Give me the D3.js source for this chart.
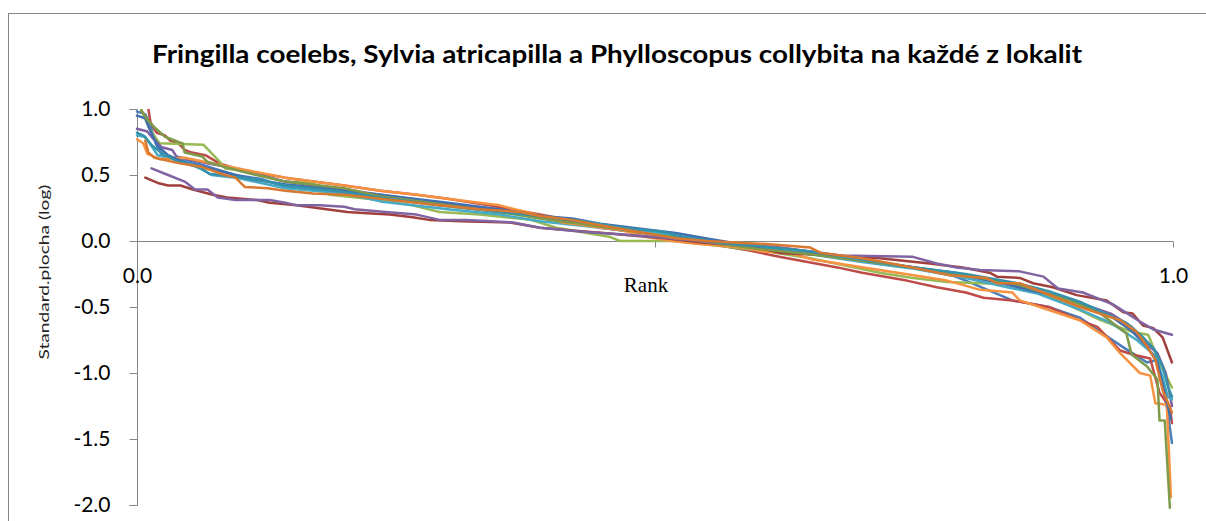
<!DOCTYPE html>
<html>
<head>
<meta charset="utf-8">
<script src="https://cdn.jsdelivr.net/npm/d3@7"></script>
<style>
  html, body { margin: 0; padding: 0; background: #fff; }
  svg { display: block; }
</style>
</head>
<body>
<svg id="chart" width="1206" height="521"></svg>
<script>
// ---- DATA (rank 0..1, standardised log area) ----
const titleText = "Fringilla coelebs, Sylvia atricapilla a Phylloscopus collybita na každé z lokalit";
const yTitle = "Standard.plocha (log)";
const xTitle = "Rank";
const yTicks = [-2.0, -1.5, -1.0, -0.5, 0.0, 0.5, 1.0];
const xTicks = [0.0, 0.5, 1.0];
const xTickLabels = ["0.0", "", "1.0"];

const lok1 = [[0,0.98],[0.005,0.97],[0.008,0.96],[0.013,0.88],[0.018,0.74],[0.024,0.65],[0.035,0.62],[0.046,0.61],[0.07,0.56],[0.095,0.5],[0.12,0.47],[0.143,0.41],[0.17,0.39],[0.2,0.36],[0.235,0.33],[0.27,0.3],[0.3,0.28],[0.34,0.23],[0.389,0.18],[0.42,0.15],[0.447,0.12],[0.48,0.08],[0.51,0.05],[0.543,0.01],[0.57,-0.02],[0.62,-0.06],[0.66,-0.1],[0.7,-0.15],[0.74,-0.19],[0.78,-0.24],[0.8,-0.3],[0.845,-0.45],[0.88,-0.5],[0.91,-0.58],[0.93,-0.69],[0.951,-0.8],[0.975,-0.92],[0.985,-0.9],[0.99,-1.1],[0.995,-1.3],[0.999,-1.53]];
const lok2 = [[0,1.15],[0.011,1.0],[0.013,0.9],[0.019,0.82],[0.027,0.8],[0.032,0.76],[0.04,0.74],[0.046,0.69],[0.053,0.67],[0.066,0.65],[0.079,0.59],[0.095,0.55],[0.11,0.52],[0.128,0.5],[0.143,0.48],[0.17,0.45],[0.2,0.42],[0.235,0.38],[0.27,0.35],[0.3,0.32],[0.34,0.27],[0.389,0.2],[0.43,0.14],[0.47,0.09],[0.5,0.05],[0.543,-0.01],[0.59,-0.07],[0.62,-0.12],[0.676,-0.2],[0.7,-0.24],[0.743,-0.3],[0.772,-0.35],[0.8,-0.39],[0.817,-0.43],[0.845,-0.45],[0.88,-0.5],[0.91,-0.6],[0.927,-0.65],[0.949,-0.83],[0.961,-0.86],[0.978,-0.89],[0.987,-1.15],[0.997,-1.26],[0.999,-1.38]];
const lok3 = [[0.004,1.0],[0.012,0.85],[0.02,0.76],[0.022,0.74],[0.064,0.73],[0.08,0.6],[0.085,0.55],[0.095,0.54],[0.128,0.48],[0.143,0.45],[0.17,0.44],[0.186,0.35],[0.235,0.31],[0.266,0.27],[0.292,0.22],[0.331,0.2],[0.38,0.16],[0.405,0.1],[0.457,0.03],[0.466,0.0],[0.517,0.0],[0.543,-0.02],[0.6,-0.07],[0.65,-0.13],[0.717,-0.24],[0.749,-0.28],[0.782,-0.31],[0.814,-0.32],[0.852,-0.33],[0.89,-0.45],[0.93,-0.6],[0.961,-0.69],[0.976,-0.71],[0.987,-0.92],[0.999,-1.11]];
const lok4 = [[0,0.85],[0.01,0.83],[0.015,0.78],[0.024,0.71],[0.034,0.69],[0.038,0.64],[0.06,0.6],[0.095,0.55],[0.143,0.45],[0.2,0.39],[0.235,0.35],[0.3,0.28],[0.35,0.23],[0.389,0.18],[0.447,0.1],[0.5,0.05],[0.543,0.0],[0.6,-0.05],[0.65,-0.09],[0.7,-0.15],[0.75,-0.2],[0.8,-0.27],[0.85,-0.34],[0.88,-0.4],[0.91,-0.47],[0.94,-0.55],[0.96,-0.65],[0.975,-0.78],[0.985,-0.85],[0.993,-1.0],[0.999,-1.25]];
const lok5 = [[0,0.8],[0.008,0.79],[0.014,0.72],[0.02,0.65],[0.046,0.6],[0.063,0.54],[0.072,0.5],[0.095,0.48],[0.143,0.4],[0.2,0.36],[0.235,0.3],[0.3,0.24],[0.35,0.2],[0.389,0.15],[0.447,0.1],[0.47,0.08],[0.5,0.06],[0.53,0.03],[0.56,0.0],[0.6,-0.05],[0.65,-0.1],[0.7,-0.16],[0.75,-0.21],[0.8,-0.28],[0.84,-0.35],[0.87,-0.4],[0.91,-0.52],[0.94,-0.62],[0.965,-0.75],[0.983,-0.87],[0.99,-1.03],[0.995,-1.18],[0.999,-1.2]];
const lok6 = [[0,0.77],[0.006,0.74],[0.01,0.66],[0.013,0.65],[0.022,0.62],[0.046,0.63],[0.078,0.58],[0.11,0.53],[0.143,0.48],[0.17,0.45],[0.2,0.42],[0.235,0.38],[0.27,0.35],[0.3,0.32],[0.35,0.27],[0.38,0.21],[0.411,0.14],[0.469,0.08],[0.492,0.03],[0.517,0.0],[0.54,-0.02],[0.585,-0.05],[0.604,-0.08],[0.63,-0.09],[0.652,-0.14],[0.717,-0.22],[0.782,-0.3],[0.814,-0.37],[0.845,-0.39],[0.852,-0.45],[0.91,-0.6],[0.936,-0.73],[0.949,-0.85],[0.968,-1.0],[0.978,-1.02],[0.983,-1.23],[0.994,-1.24],[0.998,-1.94]];
const lok7 = [[0,0.95],[0.008,0.93],[0.012,0.85],[0.02,0.72],[0.03,0.65],[0.05,0.58],[0.08,0.53],[0.11,0.47],[0.143,0.43],[0.2,0.38],[0.235,0.35],[0.3,0.29],[0.35,0.24],[0.389,0.19],[0.42,0.17],[0.447,0.13],[0.49,0.09],[0.52,0.06],[0.55,0.02],[0.58,-0.02],[0.62,-0.05],[0.66,-0.09],[0.7,-0.14],[0.74,-0.19],[0.79,-0.24],[0.83,-0.31],[0.86,-0.37],[0.89,-0.42],[0.92,-0.5],[0.94,-0.57],[0.96,-0.68],[0.975,-0.8],[0.985,-0.92],[0.992,-1.15],[0.998,-1.35]];
const lok8 = [[0.008,0.48],[0.02,0.44],[0.03,0.42],[0.042,0.42],[0.054,0.39],[0.073,0.35],[0.087,0.33],[0.116,0.31],[0.128,0.29],[0.154,0.27],[0.174,0.25],[0.203,0.22],[0.222,0.21],[0.244,0.2],[0.266,0.18],[0.282,0.16],[0.313,0.15],[0.36,0.14],[0.389,0.1],[0.42,0.08],[0.45,0.06],[0.48,0.04],[0.51,0.02],[0.543,-0.01],[0.6,-0.05],[0.62,-0.09],[0.672,-0.11],[0.717,-0.13],[0.765,-0.17],[0.797,-0.2],[0.823,-0.24],[0.83,-0.27],[0.852,-0.28],[0.865,-0.32],[0.884,-0.35],[0.907,-0.41],[0.936,-0.45],[0.952,-0.54],[0.961,-0.55],[0.971,-0.64],[0.981,-0.66],[0.99,-0.73],[0.999,-0.92]];
const lok9 = [[0.004,0.99],[0.01,0.92],[0.017,0.86],[0.027,0.79],[0.04,0.75],[0.044,0.74],[0.046,0.67],[0.063,0.64],[0.068,0.6],[0.085,0.56],[0.11,0.51],[0.143,0.45],[0.2,0.4],[0.235,0.34],[0.3,0.27],[0.35,0.22],[0.389,0.17],[0.447,0.11],[0.5,0.05],[0.543,0.0],[0.6,-0.06],[0.65,-0.1],[0.7,-0.15],[0.75,-0.2],[0.8,-0.26],[0.85,-0.33],[0.9,-0.45],[0.93,-0.55],[0.955,-0.7],[0.96,-0.86],[0.975,-0.95],[0.985,-1.05],[0.987,-1.36],[0.992,-1.36],[0.997,-2.02]];
const lok10 = [[0.014,0.55],[0.03,0.5],[0.046,0.45],[0.056,0.39],[0.068,0.39],[0.078,0.33],[0.095,0.31],[0.128,0.31],[0.143,0.29],[0.155,0.27],[0.176,0.27],[0.2,0.26],[0.21,0.24],[0.24,0.22],[0.27,0.2],[0.292,0.16],[0.318,0.16],[0.363,0.14],[0.389,0.1],[0.43,0.07],[0.47,0.05],[0.5,0.03],[0.543,0.0],[0.6,-0.04],[0.62,-0.05],[0.679,-0.11],[0.749,-0.12],[0.772,-0.17],[0.791,-0.2],[0.814,-0.22],[0.852,-0.23],[0.875,-0.27],[0.889,-0.36],[0.913,-0.39],[0.942,-0.48],[0.968,-0.61],[0.981,-0.67],[0.999,-0.71]];
const lok11 = [[0,0.82],[0.006,0.8],[0.015,0.72],[0.025,0.66],[0.04,0.6],[0.06,0.56],[0.07,0.51],[0.09,0.49],[0.12,0.46],[0.143,0.42],[0.19,0.38],[0.235,0.33],[0.29,0.27],[0.35,0.22],[0.389,0.19],[0.43,0.15],[0.469,0.1],[0.508,0.07],[0.527,0.03],[0.546,0.01],[0.56,-0.01],[0.6,-0.04],[0.65,-0.08],[0.7,-0.14],[0.75,-0.2],[0.8,-0.25],[0.85,-0.32],[0.88,-0.38],[0.91,-0.46],[0.935,-0.55],[0.955,-0.62],[0.97,-0.72],[0.982,-0.82],[0.99,-0.95],[0.995,-1.1],[0.999,-1.18]];
const lok12 = [[0.008,0.76],[0.011,0.67],[0.017,0.63],[0.04,0.59],[0.063,0.56],[0.085,0.5],[0.095,0.48],[0.104,0.41],[0.126,0.4],[0.143,0.38],[0.17,0.36],[0.2,0.35],[0.235,0.32],[0.28,0.28],[0.33,0.24],[0.37,0.22],[0.389,0.19],[0.42,0.16],[0.447,0.12],[0.49,0.06],[0.52,0.02],[0.55,0.0],[0.6,-0.02],[0.62,-0.03],[0.65,-0.05],[0.66,-0.09],[0.7,-0.13],[0.735,-0.18],[0.76,-0.22],[0.785,-0.26],[0.82,-0.28],[0.83,-0.32],[0.852,-0.32],[0.91,-0.5],[0.949,-0.6],[0.965,-0.69],[0.975,-0.8],[0.983,-0.9],[0.99,-1.13],[0.997,-1.26],[0.999,-1.3]];

const seriesData = [lok1, lok2, lok3, lok4, lok5, lok6, lok7, lok8, lok9, lok10, lok11, lok12];
const seriesColors = ["#4A7EBB","#BE4B48","#98B954","#7D60A0","#46AAC5","#F69240",
                      "#3F6FAE","#A03F3C","#7F9A48","#8064A2","#3592AB","#D9782F"];

// ---- LAYOUT ----
const svg = d3.select("#chart");
const x = d3.scaleLinear().domain([0, 1]).range([137, 1173]);
const y = d3.scaleLinear().domain([-2, 1]).range([505, 109]);
const axisColor = "#868686";

// outer chart border
svg.append("rect").attr("x", 8.5).attr("y", 13.5).attr("width", 1230).attr("height", 540)
  .attr("fill", "#fff").attr("stroke", axisColor).attr("stroke-width", 1);

// title
svg.append("text").attr("x", 617).attr("y", 63).attr("text-anchor", "middle")
  .attr("font-family", "Lato, 'Open Sans', sans-serif").attr("font-weight", "bold")
  .attr("font-size", 24).attr("fill", "#000")
  .attr("textLength", 930).attr("lengthAdjust", "spacingAndGlyphs")
  .text(titleText);

// y axis
const yAxis = svg.append("g").attr("transform", "translate(137.5,0)")
  .call(d3.axisLeft(y).tickValues(yTicks).tickSize(8).tickPadding(19)
    .tickFormat(d => d.toFixed(1)));
yAxis.select(".domain").attr("stroke", axisColor).attr("d", `M-8,${y(1)+0.5}H0V${y(-2)+0.5}H-8`);
yAxis.selectAll(".tick line").attr("stroke", axisColor);
yAxis.selectAll(".tick text").attr("font-family", "Lato, 'Open Sans', sans-serif")
  .attr("font-size", 21).attr("fill", "#000");

// x axis at y = 0
const xAxis = svg.append("g").attr("transform", `translate(0,${y(0)+0.5})`)
  .call(d3.axisBottom(x).tickValues(xTicks).tickSize(6).tickPadding(21)
    .tickFormat((d, i) => xTickLabels[i]));
xAxis.select(".domain").attr("stroke", axisColor).attr("d", `M${x(0)},0H${x(1)}`);
xAxis.selectAll(".tick line").attr("stroke", axisColor);
xAxis.selectAll(".tick text").attr("font-family", "Lato, 'Open Sans', sans-serif")
  .attr("font-size", 21).attr("fill", "#000");

// axis titles
svg.append("text").attr("x", 646).attr("y", 292).attr("text-anchor", "middle")
  .attr("font-family", "'Liberation Serif', 'Times New Roman', serif")
  .attr("font-size", 21).attr("fill", "#000").text(xTitle);

svg.append("text").attr("transform", "translate(49,272) rotate(-90)")
  .attr("text-anchor", "middle")
  .attr("font-family", "Lato, 'Open Sans', sans-serif")
  .attr("font-size", 13).attr("fill", "#222")
  .attr("textLength", 175).attr("lengthAdjust", "spacingAndGlyphs")
  .text(yTitle);

// clip to plot area
svg.append("clipPath").attr("id", "plotclip").append("rect")
  .attr("x", x(0) - 2).attr("y", y(1)).attr("width", x(1) - x(0) + 4).attr("height", y(-2) - y(1) + 4);

const line = d3.line().x(d => x(d[0])).y(d => y(d[1]));
svg.append("g").attr("clip-path", "url(#plotclip)")
  .selectAll("path").data(seriesData).join("path")
  .attr("d", line).attr("fill", "none")
  .attr("stroke", (d, i) => seriesColors[i])
  .attr("stroke-width", 2.5).attr("stroke-linejoin", "round").attr("stroke-linecap", "round");
</script>
</body>
</html>
